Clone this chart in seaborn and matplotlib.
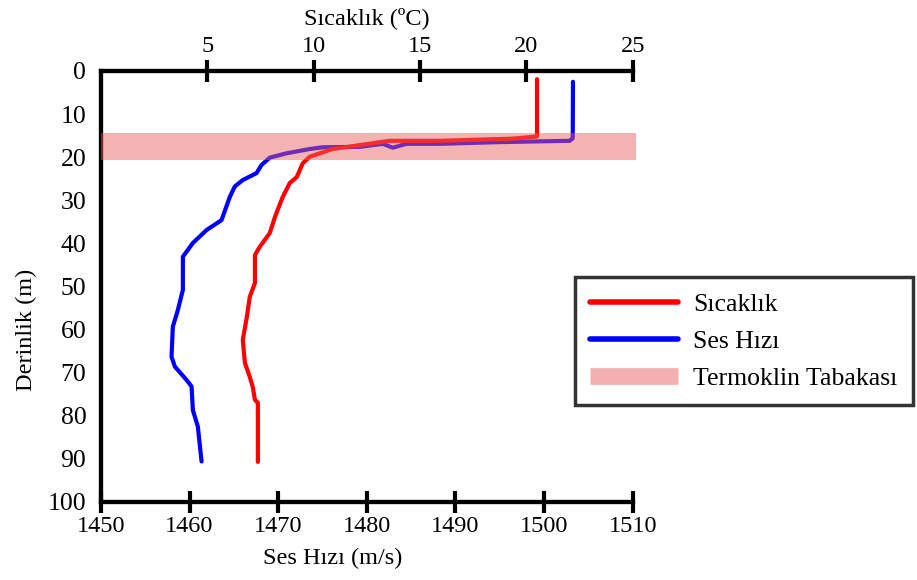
import matplotlib
matplotlib.use("Agg")
import matplotlib.pyplot as plt
from matplotlib.lines import Line2D
import seaborn as sns
import pandas as pd

# Temperature profile (°C) vs depth (m)
temp_depth = [1.9, 15.2, 15.7, 16.2, 16.2, 17.2, 18.1, 19.1, 19.9, 21.4, 24.6, 26.0,
              29.2, 33.9, 37.6, 40.8, 42.7, 49.2, 52.4, 57.1, 62.4, 67.7, 71.0, 73.3,
              76.3, 77.0, 90.7]
temp_vals = [20.50, 20.50, 19.36, 15.93, 13.58, 12.17, 10.90, 10.29, 9.82, 9.49, 9.21, 8.88,
             8.55, 8.18, 7.94, 7.47, 7.24, 7.24, 7.00, 6.86, 6.67, 6.77, 7.00, 7.14,
             7.24, 7.38, 7.38]

# Sound speed profile (m/s) vs depth (m)
speed_depth = [2.5, 15.6, 16.2, 16.5, 16.9, 16.9, 17.8, 16.9, 17.6, 17.7, 18.1, 19.1,
               20.1, 21.8, 23.7, 25.3, 26.8, 29.2, 34.6, 36.9, 39.9, 43.1, 50.8, 55.5,
               59.3, 66.3, 68.6, 71.7, 73.2, 78.7, 82.5, 90.6]
speed_vals = [1503.26, 1503.23, 1502.89, 1495.0, 1488.23, 1484.48, 1482.93, 1481.80,
              1479.21, 1475.04, 1473.57, 1470.94, 1469.06, 1468.12, 1467.56, 1466.01,
              1465.11, 1464.55, 1463.61, 1461.92, 1460.38, 1459.25, 1459.25, 1458.68,
              1458.12, 1457.97, 1458.35, 1459.67, 1460.23, 1460.38, 1460.94, 1461.36]

thermocline = [14.4, 20.6]

speed_ticks = [1450, 1460, 1470, 1480, 1490, 1500, 1510]
temp_ticks = [5, 10, 15, 20, 25]
depth_ticks = [0, 10, 20, 30, 40, 50, 60, 70, 80, 90, 100]

labels = ["Sıcaklık", "Ses Hızı", "Termoklin Tabakası"]

sns.set_theme(style="white")
plt.rcParams['font.family'] = ['Liberation Serif', 'DejaVu Serif']

fig = plt.figure(figsize=(9.17, 5.8), dpi=100)
ax = fig.add_axes([0.110, 0.1345, 0.580, 0.7431])
ax.patch.set_alpha(0)
ax2 = ax.twiny()

df_s = pd.DataFrame({"depth": speed_depth, "speed": speed_vals})
df_t = pd.DataFrame({"depth": temp_depth, "temp": temp_vals})

sns.lineplot(data=df_s, x="speed", y="depth", sort=False, estimator=None,
             color="#0000ff", lw=3.0, ax=ax)
sns.lineplot(data=df_t, x="temp", y="depth", sort=False, estimator=None,
             color="#ff0000", lw=3.0, ax=ax2)
ax2.axhspan(thermocline[0], thermocline[1], xmax=1.006, color="#e86060", alpha=0.48,
            lw=0, zorder=5, clip_on=False)

ax.set_xlim(1450, 1510)
ax2.set_xlim(0, 25)
ax.set_ylim(100, 0)

ax.set_xticks(speed_ticks)
ax.set_yticks(depth_ticks)
ax2.set_xticks(temp_ticks)

for a in (ax, ax2):
    for s in a.spines.values():
        s.set_linewidth(3)
        s.set_color("black")
    a.spines["right"].set_visible(False)

ax.tick_params(axis="x", direction="inout", length=16, width=3, labelsize=17.5, pad=2, colors="black")
ax.tick_params(axis="y", direction="inout", length=17, width=3, labelsize=18.5, pad=2, colors="black")
ax2.tick_params(axis="x", direction="inout", length=16, width=3, labelsize=17.5, pad=2, colors="black")

ax.set_xlabel("Ses Hızı (m/s)", fontsize=17.5, color="black")
ax.xaxis.set_label_coords(0.436, -0.107)
ax.set_ylabel("Derinlik (m)", fontsize=17.5, color="black")
ax.yaxis.set_label_coords(-0.12, 0.40)
ax2.set_xlabel("Sıcaklık (ºC)", fontsize=17.5, color="black")
ax2.xaxis.set_label_coords(0.5, 1.11)
ax2.set_ylabel("")

handles = [Line2D([], [], color="#ff0000", lw=4),
           Line2D([], [], color="#0000ff", lw=4),
           Line2D([], [], color="#f4afaf", lw=12, solid_capstyle="butt")]
leg = fig.legend(handles, labels, loc="upper left", bbox_to_anchor=(0.627, 0.522),
                 frameon=True, fancybox=False, fontsize=18.5, handlelength=3.4,
                 handletextpad=0.6, labelspacing=0.55, borderpad=0.6, borderaxespad=0)
leg.get_frame().set_edgecolor("black")
leg.get_frame().set_linewidth(2.5)
for t in leg.get_texts():
    t.set_color("black")

fig.savefig("out.png", dpi=100)
